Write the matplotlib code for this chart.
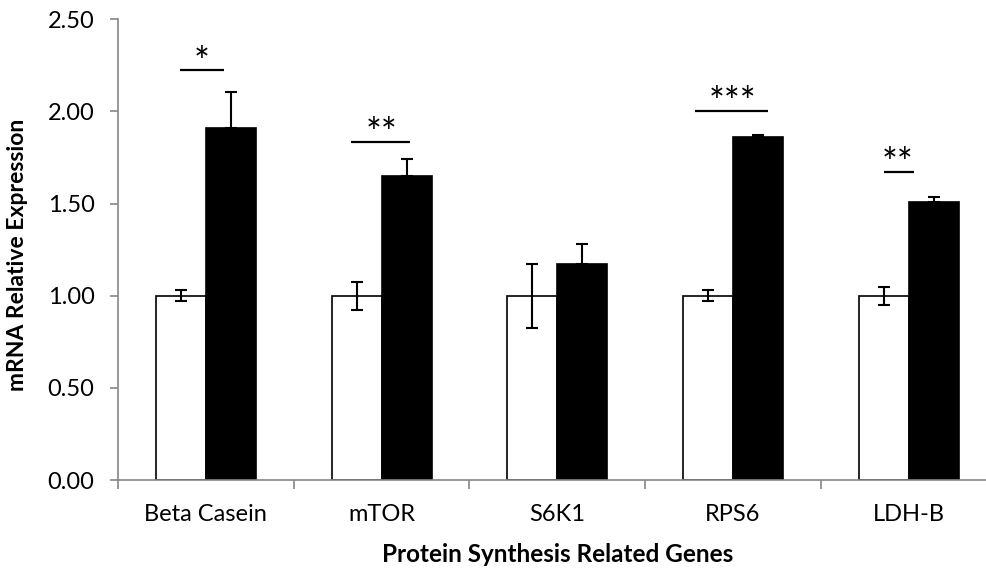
import numpy as np
import matplotlib
matplotlib.use("Agg")
import matplotlib.pyplot as plt

# ---- data ----
genes = ["Beta Casein", "mTOR", "S6K1", "RPS6", "LDH-B"]
control = [1.00, 1.00, 1.00, 1.00, 1.00]
control_err = [0.03, 0.075, 0.175, 0.03, 0.05]
treated = [1.91, 1.65, 1.17, 1.86, 1.51]
treated_err = [0.196, 0.091, 0.11, 0.012, 0.027]

# significance marks: gene index, label, bar height, line start/end offset
sig_idx = [0, 1, 3, 4]
sig_text = ["*", "**", "***", "**"]
sig_y = [2.224, 1.837, 2.005, 1.672]
sig_x0 = [-0.148, -0.172, -0.216, -0.142]
sig_x1 = [0.102, 0.159, 0.199, 0.028]
sig_tx = [-0.023, 0.0, 0.0, -0.06]

plt.rcParams["font.family"] = ["Lato", "DejaVu Sans"]

fig = plt.figure(figsize=(9.87, 5.70), dpi=100)
ax = fig.add_axes([0.1196, 0.1577, 0.890, 0.8084])

x = np.arange(len(genes))
w = 0.285
grey = "#868686"

ax.bar(x - w / 2, control, w, color="white", edgecolor="black", linewidth=1.2, zorder=2)
ax.bar(x + w / 2, treated, w, color="black", edgecolor="black", linewidth=1.2, zorder=2)

ax.errorbar(x - w / 2, control, yerr=control_err, fmt="none", ecolor="black",
            elinewidth=1.5, capsize=4.5, capthick=1.5, zorder=3)
ax.errorbar(x + w / 2, treated, yerr=[np.zeros(len(treated)), treated_err], fmt="none",
            ecolor="black", elinewidth=1.5, capsize=4.5, capthick=1.5, zorder=3)

for i, t, y, a, b, tx in zip(sig_idx, sig_text, sig_y, sig_x0, sig_x1, sig_tx):
    ax.plot([i + a, i + b], [y, y], color="black", linewidth=1.6, solid_capstyle="butt")
    ax.text(i + tx, y + 0.035, t, ha="center", va="center", fontsize=27)

ax.set_xlim(-0.5, len(genes) - 0.5)
ax.set_ylim(0, 2.5)
ax.set_yticks(np.arange(0, 2.51, 0.5))
ax.set_yticklabels([f"{v:.2f}" for v in np.arange(0, 2.51, 0.5)])
ax.set_xticks(x)
ax.set_xticklabels(genes)
ax.set_xticks(np.arange(-0.5, len(genes)), minor=True)

ax.tick_params(axis="x", which="major", length=0, pad=17, labelsize=17)
ax.tick_params(axis="x", which="minor", length=6.5, width=1.2, color=grey, direction="out")
ax.tick_params(axis="y", length=6, width=1.2, color=grey, pad=11, labelsize=17)

for s in ["top", "right"]:
    ax.spines[s].set_visible(False)
for s in ["left", "bottom"]:
    ax.spines[s].set_color(grey)
    ax.spines[s].set_linewidth(1.2)

ax.set_ylabel("mRNA Relative Expression", fontsize=16.5, fontweight="bold")
ax.yaxis.set_label_coords(-0.102, 0.488)
ax.set_xlabel("Protein Synthesis Related Genes", fontsize=17.5, fontweight="bold")
ax.xaxis.set_label_coords(0.5, -0.137)

fig.savefig("out.png", dpi=100)
